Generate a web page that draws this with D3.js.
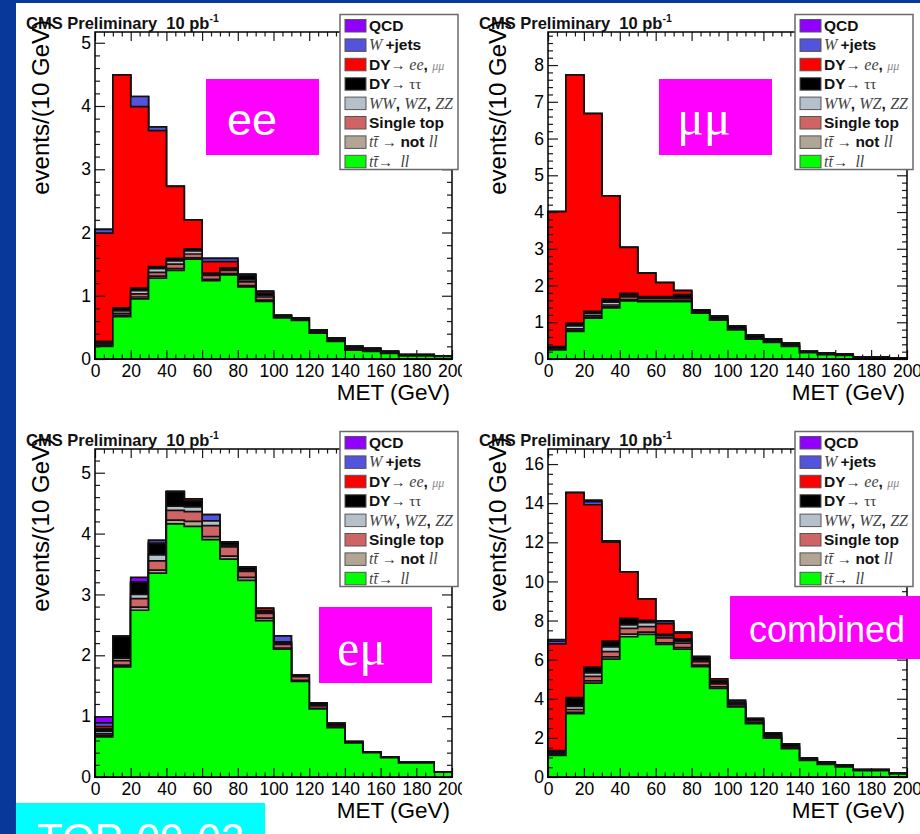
<!DOCTYPE html>
<html>
<head>
<meta charset="utf-8">
<script src="https://cdn.jsdelivr.net/npm/d3@7"></script>
<style>
  html, body { margin: 0; padding: 0; background: #07389a; }
  svg { display: block; }
</style>
</head>
<body>
<svg id="fig" width="920" height="834"></svg>
<script>
// ---- binning and ticks ------------------------------------------------
const binEdges = [0,10,20,30,40,50,60,70,80,90,100,110,120,130,140,150,160,170,180,190];
const metMax = 200;
const xTickLabels = [0,20,40,60,80,100,120,140,160,180,200];
const yTicksSmall = [0,1,2,3,4,5];
const yTicksMuMu = [0,1,2,3,4,5,6,7,8];
const yTicksComb = [0,2,4,6,8,10,12,14,16];

// ---- processes (stack order bottom -> top) ----------------------------
const processNames = ["ttll","ttnot","stop","vv","dytt","dyll","wjets","qcd"];
const processColors = ["#00ff00","#b3a595","#cf6464","#b4c0ca","#000000","#ff0000","#5353dc","#8f00ff"];

// ---- ee channel ----
const ee_ttll  = [0.20,0.67,0.95,1.28,1.40,1.58,1.24,1.33,1.14,0.91,0.65,0.61,0.41,0.28,0.14,0.12,0.09,0.05,0.05,0.04];
const ee_ttnot = [0.02,0.02,0.03,0.03,0.03,0.02,0.02,0.02,0.02,0.02,0.01,0.01,0.01,0.01,0.01,0.01,0,0,0,0];
const ee_stop  = [0.02,0.03,0.05,0.06,0.07,0.06,0.06,0.05,0.06,0.05,0.01,0.01,0.02,0.02,0.02,0.01,0.01,0.01,0.01,0];
const ee_vv    = [0.02,0.04,0.05,0.06,0.05,0.05,0.02,0.02,0.03,0.02,0.01,0.01,0.01,0.01,0.01,0.01,0.01,0,0,0];
const ee_dytt  = [0.02,0.05,0.04,0.03,0.04,0.03,0.02,0.02,0.07,0.04,0.01,0.01,0.01,0.01,0.02,0.02,0.01,0.01,0.01,0.01];
const ee_dyll  = [1.71,3.68,2.87,2.15,1.14,0.46,0.18,0.10,0.02,0.03,0,0,0,0,0,0,0,0,0,0];
const ee_wjets = [0.06,0,0.16,0.06,0,0,0.05,0.05,0,0,0,0,0,0,0,0,0,0,0,0];
const ee_qcd   = [0,0,0,0,0,0,0,0,0,0,0,0,0,0,0,0,0,0,0,0];

// ---- mumu channel ----
const mm_ttll  = [0.25,0.75,1.11,1.39,1.58,1.56,1.56,1.56,1.25,1.06,0.79,0.54,0.45,0.34,0.17,0.12,0.10,0.04,0.04,0.02];
const mm_ttnot = [0.01,0.03,0.03,0.03,0.04,0.03,0.03,0.03,0.01,0,0.01,0.01,0.01,0.01,0,0,0,0,0,0];
const mm_stop  = [0.01,0.04,0.04,0.05,0.07,0.06,0.06,0.05,0.01,0.02,0.02,0.02,0.02,0.02,0.01,0.01,0.01,0,0,0];
const mm_vv    = [0.01,0.08,0.06,0.08,0.05,0.02,0.02,0.02,0.01,0.01,0.01,0.01,0.01,0,0,0,0,0,0,0];
const mm_dytt  = [0.06,0.08,0.06,0.08,0.05,0.03,0.03,0.09,0.06,0.06,0.07,0.07,0.06,0.06,0.03,0.03,0.03,0.01,0.01,0.01];
const mm_dyll  = [3.67,6.75,5.38,2.81,1.25,0.64,0.38,0.11,0,0.02,0,0,0,0,0,0,0,0,0,0];
const mm_wjets = [0,0,0,0,0,0,0,0,0,0,0,0,0,0,0,0,0,0,0,0];
const mm_qcd   = [0,0,0,0,0,0,0,0,0,0,0,0,0,0,0,0,0,0,0,0];

// ---- emu channel ----
const em_ttll  = [0.66,1.81,2.74,3.35,4.16,4.12,3.90,3.58,3.23,2.57,2.10,1.57,1.12,0.81,0.56,0.40,0.32,0.23,0.23,0.08];
const em_ttnot = [0.02,0.03,0.05,0.05,0.06,0.08,0.05,0.05,0.05,0.04,0.02,0.02,0.01,0.01,0,0,0,0,0,0];
const em_stop  = [0.03,0.07,0.14,0.15,0.16,0.16,0.18,0.15,0.10,0.08,0.06,0.06,0.04,0.02,0.01,0.01,0.01,0.01,0.01,0];
const em_vv    = [0.04,0.04,0.07,0.10,0.07,0.08,0.08,0.03,0.02,0.01,0.02,0.01,0.01,0,0,0,0,0,0,0];
const em_dytt  = [0.04,0.36,0.20,0.19,0.24,0.10,0,0.05,0.05,0.03,0.02,0.02,0.04,0.04,0.01,0,0,0,0,0];
const em_dyll  = [0.04,0,0,0,0,0.03,0,0,0,0.04,0,0,0,0,0,0,0,0,0,0];
const em_wjets = [0.06,0,0,0.05,0,0,0.10,0,0,0,0.10,0,0,0,0,0,0,0,0,0];
const em_qcd   = [0.10,0,0.08,0,0,0,0,0,0,0,0,0,0,0,0,0,0,0,0,0];

// ---- all channels combined ----
const co_ttll  = [1.11,3.24,4.80,6.03,7.17,7.29,6.78,6.54,5.64,4.53,3.59,2.73,1.98,1.45,0.85,0.65,0.52,0.33,0.33,0.16];
const co_ttnot = [0.04,0.07,0.11,0.11,0.13,0.12,0.08,0.08,0.08,0.08,0.04,0.04,0.03,0.03,0.01,0.01,0.01,0,0,0];
const co_stop  = [0.06,0.14,0.23,0.27,0.30,0.28,0.25,0.22,0.18,0.15,0.10,0.10,0.08,0.06,0.03,0.03,0.02,0.01,0.01,0.01];
const co_vv    = [0.06,0.16,0.18,0.24,0.18,0.20,0.10,0.10,0.06,0.04,0.04,0.02,0.03,0.02,0,0,0,0,0,0];
const co_dytt  = [0.08,0.45,0.30,0.30,0.33,0.12,0.08,0.12,0.18,0.12,0.05,0.10,0.13,0.13,0.08,0.07,0.06,0.04,0.04,0.02];
const co_dyll  = [5.46,10.48,8.30,5.06,2.38,1.10,0.55,0.30,0.02,0.10,0,0,0,0,0,0,0,0,0,0];
const co_wjets = [0.13,0,0.16,0.06,0,0,0.12,0.05,0,0,0.10,0,0,0,0,0,0,0,0,0];
const co_qcd   = [0.09,0,0.08,0,0,0,0.03,0,0,0,0,0,0,0,0,0,0,0,0,0];

// ---- panel layout ------------------------------------------------------
const SANS = "'Liberation Sans', Arial, Helvetica, sans-serif";
const SERIF = "'Liberation Serif', 'Times New Roman', serif";

const panels = [
  { tag: "ee", tagFont: SANS, tagSize: 45, x0: 95, x1: 452, y0: 32, y1: 359, ymax: 5.17,
    yTicks: yTicksSmall, yMinor: 0.2, clip: [16, 3, 446, 412], ylabX: 46,
    box: [206, 79, 113, 76], tagDx: 21, tagDy: 56,
    stack: [ee_ttll, ee_ttnot, ee_stop, ee_vv, ee_dytt, ee_dyll, ee_wjets, ee_qcd] },
  { tag: "\u03bc\u03bc", tagFont: SERIF, tagSize: 50, x0: 548, x1: 907, y0: 32, y1: 359, ymax: 8.9,
    yTicks: yTicksMuMu, yMinor: 0.2, clip: [462, 3, 458, 412], ylabX: 42,
    box: [659, 79, 113, 76], tagDx: 18, tagDy: 56,
    stack: [mm_ttll, mm_ttnot, mm_stop, mm_vv, mm_dytt, mm_dyll, mm_wjets, mm_qcd] },
  { tag: "e\u03bc", tagFont: SERIF, tagSize: 50, x0: 95, x1: 452, y0: 449, y1: 777, ymax: 5.39,
    yTicks: yTicksSmall, yMinor: 0.2, clip: [16, 415, 446, 419], ylabX: 46,
    box: [319, 607, 113, 76], tagDx: 18, tagDy: 58,
    stack: [em_ttll, em_ttnot, em_stop, em_vv, em_dytt, em_dyll, em_wjets, em_qcd] },
  { tag: "combined", tagFont: SANS, tagSize: 36, x0: 548, x1: 907, y0: 449, y1: 777, ymax: 16.77,
    yTicks: yTicksComb, yMinor: 0.5, clip: [462, 415, 458, 419], ylabX: 42,
    box: [730, 596, 190, 63], tagDx: 19, tagDy: 46,
    stack: [co_ttll, co_ttnot, co_stop, co_vv, co_dytt, co_dyll, co_wjets, co_qcd] }
];

// legend rows: list of [text, style] runs
const legendRows = [
  [["QCD", "b"]],
  [["W", "i"], ["\u2009+jets", "b"]],
  [["DY", "b"], ["\u2192 ", "s"], ["ee", "i"], [", ", "b"], ["\u03bc\u03bc", "g"]],
  [["DY", "b"], ["\u2192 ", "s"], ["\u03c4\u03c4", "s"]],
  [["WW", "i"], [", ", "b"], ["WZ", "i"], [", ", "b"], ["ZZ", "i"]],
  [["Single top", "b"]],
  [["tt\u0304", "i"], [" \u2192 ", "s"], ["not ", "b"], ["ll", "i"]],
  [["tt\u0304", "i"], ["\u2192\u00a0\u00a0", "s"], ["ll", "i"]]
];
// legend swatches follow the stack top -> bottom
const legendOrder = [7, 6, 5, 4, 3, 2, 1, 0];

// ---- drawing -----------------------------------------------------------
const svg = d3.select("#fig");
const defs = svg.append("defs");

svg.append("rect").attr("x", 16).attr("y", 3).attr("width", 904).attr("height", 831).attr("fill", "#ffffff");

panels.forEach((p, pi) => {
  const clipId = "panelclip" + pi;
  defs.append("clipPath").attr("id", clipId).append("rect")
    .attr("x", p.clip[0]).attr("y", p.clip[1]).attr("width", p.clip[2]).attr("height", p.clip[3]);
  const g = svg.append("g").attr("clip-path", `url(#${clipId})`);

  const x = d3.scaleLinear().domain([0, metMax]).range([p.x0, p.x1]);
  const y = d3.scaleLinear().domain([0, p.ymax]).range([p.y1, p.y0]);

  // cumulative sums for the stack
  let running = binEdges.map(() => 0);
  const cumulative = p.stack.map(series => {
    running = running.map((r, b) => r + series[b]);
    return running;
  });

  const area = d3.area()
    .curve(d3.curveStepAfter)
    .x(d => x(d.x))
    .y0(y(0))
    .y1(d => y(d.v));

  // draw each cumulative histogram, largest first
  for (let k = cumulative.length - 1; k >= 0; k--) {
    const c = cumulative[k];
    const pts = binEdges.map((e, b) => ({ x: e, v: c[b] }));
    pts.push({ x: metMax, v: c[c.length - 1] });
    g.append("path")
      .attr("d", area(pts))
      .attr("fill", processColors[k])
      .attr("stroke", "#111")
      .attr("stroke-width", 1.7)
      .attr("stroke-linejoin", "miter");
  }

  // axes with inward ticks on all four sides
  const xMinor = d3.range(0, metMax + 0.01, 5).filter(v => v % 20 !== 0);
  const yMinor = d3.range(0, p.ymax, p.yMinor).filter(v => Math.abs(v / p.yTicks[1] - Math.round(v / p.yTicks[1])) > 1e-6);
  const styleAxis = sel => {
    sel.select(".domain").remove();
    sel.selectAll(".tick line").attr("stroke", "#1a1a1a").attr("stroke-width", 1.2);
    sel.attr("font-family", SANS).attr("font-size", 17.5);
    sel.selectAll(".tick text").attr("fill", "#000");
  };

  g.append("g").attr("transform", `translate(0,${p.y1})`)
    .call(d3.axisBottom(x).tickValues(xTickLabels).tickSizeInner(-9).tickSizeOuter(0).tickPadding(5.4).tickFormat(d3.format("d")))
    .call(styleAxis);
  g.append("g").attr("transform", `translate(0,${p.y1})`)
    .call(d3.axisBottom(x).tickValues(xMinor).tickSizeInner(-4.5).tickSizeOuter(0).tickFormat(() => ""))
    .call(styleAxis);
  g.append("g").attr("transform", `translate(0,${p.y0})`)
    .call(d3.axisTop(x).tickValues(xTickLabels).tickSizeInner(-9).tickSizeOuter(0).tickFormat(() => ""))
    .call(styleAxis);
  g.append("g").attr("transform", `translate(0,${p.y0})`)
    .call(d3.axisTop(x).tickValues(xMinor).tickSizeInner(-4.5).tickSizeOuter(0).tickFormat(() => ""))
    .call(styleAxis);
  g.append("g").attr("transform", `translate(${p.x0},0)`)
    .call(d3.axisLeft(y).tickValues(p.yTicks).tickSizeInner(-10).tickSizeOuter(0).tickPadding(4).tickFormat(d3.format("d")))
    .call(styleAxis);
  g.append("g").attr("transform", `translate(${p.x0},0)`)
    .call(d3.axisLeft(y).tickValues(yMinor).tickSizeInner(-5).tickSizeOuter(0).tickFormat(() => ""))
    .call(styleAxis);
  g.append("g").attr("transform", `translate(${p.x1},0)`)
    .call(d3.axisRight(y).tickValues(p.yTicks).tickSizeInner(-10).tickSizeOuter(0).tickFormat(() => ""))
    .call(styleAxis);
  g.append("g").attr("transform", `translate(${p.x1},0)`)
    .call(d3.axisRight(y).tickValues(yMinor).tickSizeInner(-5).tickSizeOuter(0).tickFormat(() => ""))
    .call(styleAxis);

  // frame
  g.append("rect").attr("x", p.x0).attr("y", p.y0)
    .attr("width", p.x1 - p.x0).attr("height", p.y1 - p.y0)
    .attr("fill", "none").attr("stroke", "#000").attr("stroke-width", 1.5);

  // titles
  const cms = g.append("text").attr("x", p.x0 - 69).attr("y", p.y0 - 3.5)
    .attr("font-family", SANS).attr("font-weight", "bold").attr("font-size", 16.5).attr("fill", "#111");
  cms.append("tspan").text("CMS Preliminary\u00a0 10 pb");
  cms.append("tspan").attr("font-size", 10.5).attr("dy", -7).text("-1");

  g.append("text")
    .attr("transform", `translate(${p.x0 - p.ylabX},${p.y0 - 12}) rotate(-90)`)
    .attr("text-anchor", "end")
    .attr("font-family", SANS).attr("font-size", 24).attr("fill", "#000")
    .text("events/(10 GeV)");

  g.append("text").attr("x", p.x1 - 2).attr("y", p.y1 + 41)
    .attr("text-anchor", "end")
    .attr("font-family", SANS).attr("font-size", 22.5).attr("fill", "#000")
    .text("MET (GeV)");

  // legend
  const lx = p.x1 - 112, ly = p.y0 - 17.5;
  const lg = g.append("g");
  lg.append("rect").attr("x", lx).attr("y", ly).attr("width", 118).attr("height", 155)
    .attr("fill", "#fff").attr("stroke", "#6a6a6a").attr("stroke-width", 1.5);
  legendRows.forEach((row, r) => {
    const sy = ly + 5 + r * 19.4;
    lg.append("rect").attr("x", lx + 5).attr("y", sy).attr("width", 21).attr("height", 12.5)
      .attr("fill", processColors[legendOrder[r]]).attr("stroke", "#555").attr("stroke-width", 1);
    const t = lg.append("text").attr("x", lx + 29).attr("y", sy + 11.5);
    row.forEach(([txt, st]) => {
      const ts = t.append("tspan").text(txt);
      if (st === "b") ts.attr("font-family", SANS).attr("font-weight", "bold").attr("font-size", 15.5).attr("fill", "#111");
      else if (st === "i") ts.attr("font-family", SERIF).attr("font-style", "italic").attr("font-size", 16).attr("fill", "#444");
      else if (st === "g") ts.attr("font-family", SERIF).attr("font-style", "italic").attr("font-size", 12).attr("fill", "#888");
      else ts.attr("font-family", SERIF).attr("font-size", 15).attr("fill", "#333");
    });
  });

  // channel tag
  g.append("rect").attr("x", p.box[0]).attr("y", p.box[1]).attr("width", p.box[2]).attr("height", p.box[3])
    .attr("fill", "#ff00ff");
  g.append("text").attr("x", p.box[0] + p.tagDx).attr("y", p.box[1] + p.tagDy)
    .attr("font-family", p.tagFont).attr("font-size", p.tagSize).attr("fill", "#fff")
    .text(p.tag);
});

// analysis reference label
svg.append("rect").attr("x", 16).attr("y", 803).attr("width", 249).attr("height", 31).attr("fill", "#00ffff");
svg.append("text").attr("x", 37).attr("y", 853)
  .attr("font-family", SANS).attr("font-size", 42).attr("fill", "#ffffff")
  .text("TOP-09-02");
</script>
</body>
</html>
